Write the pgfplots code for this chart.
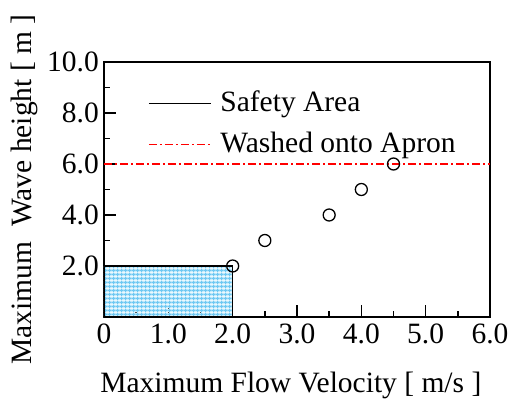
\documentclass[border=0pt]{standalone}
\usepackage{fontspec}
\setmainfont{Liberation Serif}
\usepackage{pgfplots}
\pgfplotsset{compat=1.18}
\usetikzlibrary{patterns}
\definecolor{areablue}{RGB}{205,238,252}
\definecolor{gridblue}{RGB}{110,200,242}
\pgfdeclarepatterninherentlycolored{finegrid}{\pgfpointorigin}{\pgfqpoint{3.6bp}{3.6bp}}{\pgfqpoint{3.6bp}{3.6bp}}{%
  \pgfsetfillcolor{areablue}%
  \pgfpathrectangle{\pgfpointorigin}{\pgfqpoint{3.6bp}{3.6bp}}\pgfusepath{fill}%
  \pgfsetstrokecolor{gridblue}%
  \pgfsetlinewidth{0.9bp}%
  \pgfpathmoveto{\pgfqpoint{0pt}{1.8bp}}\pgfpathlineto{\pgfqpoint{3.6bp}{1.8bp}}%
  \pgfpathmoveto{\pgfqpoint{1.8bp}{0pt}}\pgfpathlineto{\pgfqpoint{1.8bp}{3.6bp}}%
  \pgfusepath{stroke}}
\begin{document}
\fontsize{29.5bp}{34bp}\selectfont
\begin{tikzpicture}
\path[use as bounding box] (-104bp,-85bp) rectangle (409bp,317bp);
\begin{axis}[
  scale only axis,
  width=386bp, height=255bp,
  xmin=0, xmax=6, ymin=0, ymax=10,
  xtick={0,1,2,3,4,5,6},
  xticklabels={0,1.0,2.0,3.0,4.0,5.0,6.0},
  ytick={0,2,4,6,8,10},
  yticklabels={,2.0,4.0,6.0,8.0,10.0},
  minor tick num=1,
  tick pos=left,
  tick align=inside,
  major tick length=12bp,
  minor tick length=6bp,
  every tick/.style={line width=1.4bp, black},
  axis line style={line width=1.5bp},
  /pgf/number format/assume math mode=true,
  ticklabel style={font=\fontsize{29.5bp}{34bp}\selectfont},
  yticklabel style={inner sep=0pt, xshift=-5bp},
  xticklabel style={inner sep=0pt, yshift=-7bp},
  label style={font=\fontsize{29.5bp}{34bp}\selectfont},
  xlabel={Maximum Flow Velocity [ m/s ]},
  ylabel={Maximum~ Wave height [ m ]},
  xlabel style={at={(axis description cs:0.484,-0.267)}, anchor=center},
  ylabel style={at={(axis description cs:-0.207,0.5)}, anchor=center},
  legend style={draw=none, fill=none, at={(axis description cs:0.114,0.894)}, anchor=north west, inner sep=0pt, row sep=12bp, font=\fontsize{29.5bp}{34bp}\selectfont},
  legend cell align=left,
]
\addplot[draw=black, line width=1.6bp, pattern=finegrid,
  legend image code/.code={\draw[draw=black, line width=1.2bp] (0bp,0bp) -- (62bp,0bp);}]
  coordinates {(0,0) (0,2) (2,2) (2,0)} -- cycle;
\addlegendentry{\hspace{7bp}Safety Area}
\addplot[draw=red, line width=1.1bp, dash pattern=on 8bp off 3bp on 2bp off 3bp,
  legend image code/.code={\draw[draw=red, line width=1.1bp, dash pattern=on 8bp off 3bp on 2bp off 3bp] (0bp,0bp) -- (62bp,0bp);}]
  coordinates {(0,6) (6,6)};
\addlegendentry{\hspace{7bp}Washed onto Apron}
\addplot[only marks, mark=o, mark size=6bp, mark options={fill=white, draw=black, line width=1.3bp}, forget plot]
  coordinates {(2,2) (2.5,3) (3.5,4) (4,5) (4.5,6)};
\end{axis}
\end{tikzpicture}
\end{document}
